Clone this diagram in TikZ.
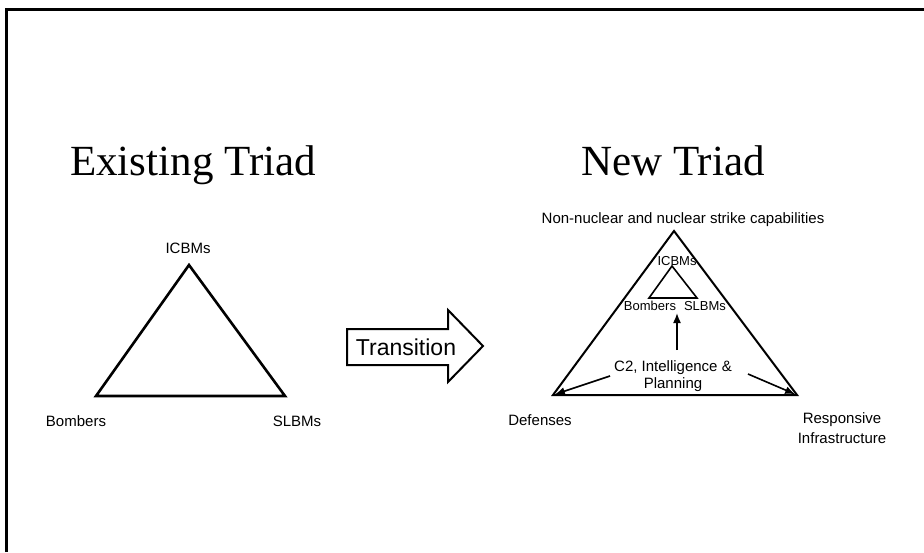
\documentclass[tikz,border=0pt]{standalone}
\usepackage{fontspec}
\setmainfont{Liberation Serif}
\newfontfamily\arialfont{Liberation Sans}
\usetikzlibrary{positioning}
\usetikzlibrary{arrows.meta}

\begin{document}
\begin{tikzpicture}[x=1pt, y=-1pt,
		heading/.style={font=\fontsize{43}{47}\selectfont, inner sep=0pt, anchor=base},
		lbl/.style={font=\arialfont\fontsize{15}{17}\selectfont, inner sep=0pt, anchor=base},
		smalllbl/.style={font=\arialfont\fontsize{13}{15}\selectfont, inner sep=0pt, anchor=base},
		feed/.style={-{Latex[length=10pt, width=8pt]}, line width=1.6pt}]
		\useasboundingbox (0,0) rectangle (924,552);

		% frame
		\draw[line width=3pt] (6,552) -- (6,9) -- (924,9);

		% titles
		\node[heading](oldTitle) at (193,175){Existing Triad};
		\node[heading](newTitle) at (673,175){New Triad};

		% existing triad
		\coordinate (oldTop) at (189,265);
		\coordinate (oldLeft) at (96,396);
		\coordinate (oldRight) at (285,396);
		\draw[line width=2.6pt, line join=miter] (oldTop) -- (oldLeft) -- (oldRight) -- cycle;
		\node[lbl](oldIcbm) at (188,253){ICBMs};
		\node[lbl](oldBomber) at (76,426){Bombers};
		\node[lbl](oldSlbm) at (297,426){SLBMs};

		% transition arrow
		\draw[line width=2pt, line join=miter] (347,329) -- (448,329) -- (448,310) -- (483,346) -- (448,382) -- (448,365) -- (347,365) -- cycle;
		\node[font=\arialfont\fontsize{23}{25}\selectfont, inner sep=0pt, anchor=base](transLbl) at (406,355){Transition};

		% new triad
		\coordinate (newTop) at (674,231);
		\coordinate (newLeft) at (553,395);
		\coordinate (newRight) at (797,395);
		\draw[line width=2pt, line join=miter] (newTop) -- (newLeft) -- (newRight) -- cycle;
		\node[lbl](strikeLbl) at (683,223){Non-nuclear and nuclear strike capabilities};
		\node[lbl](defLbl) at (540,425){Defenses};
		\node[font=\arialfont\fontsize{15}{20}\selectfont, inner sep=0pt, align=center](respLbl) at (842,428){Responsive\\Infrastructure};

		% inner triad
		\coordinate (smTop) at (672,266);
		\coordinate (smLeft) at (649,298);
		\coordinate (smRight) at (697,298);
		\draw[line width=1.6pt, line join=miter] (smTop) -- (smLeft) -- (smRight) -- cycle;
		\node[smalllbl](smIcbm) at (677,265){ICBMs};
		\node[smalllbl](smBomber) at (650,310){Bombers};
		\node[smalllbl](smSlbm) at (705,310){SLBMs};

		% C2 and its links
		\node[font=\arialfont\fontsize{15}{17}\selectfont, inner sep=0pt, align=center](c2Lbl) at (673,376){C2, Intelligence \&\\Planning};
		\coordinate (upFrom) at (677,350);
		\coordinate (upTo) at (677,313);
		\coordinate (defFrom) at (610,376);
		\coordinate (respFrom) at (748,374);
		\draw[feed] (upFrom) -- (upTo);
		\draw[feed, shorten >=2pt] (defFrom) -- (newLeft);
		\draw[feed, shorten >=2pt] (respFrom) -- (newRight);
	\end{tikzpicture}
\end{document}
